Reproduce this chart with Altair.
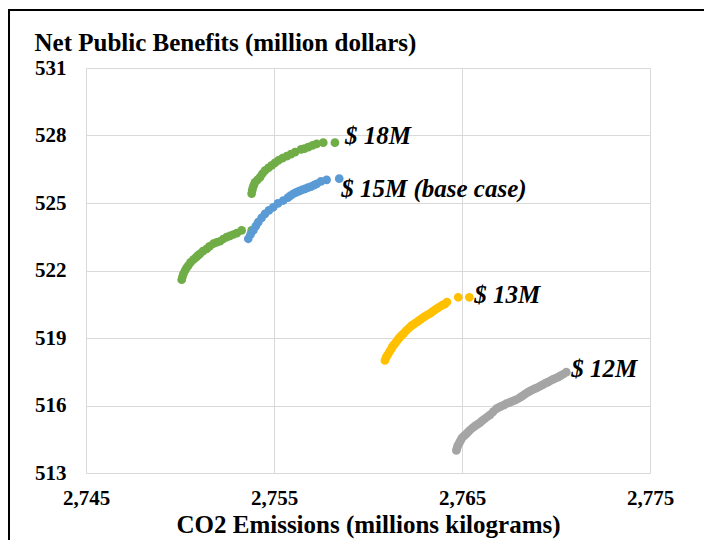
import altair as alt
import pandas as pd

# ---- data ----
green_x = [2750.09, 2750.13, 2750.18, 2750.27, 2750.35, 2750.44, 2750.56, 2750.71, 2750.85,
           2750.96, 2751.06, 2751.22, 2751.42, 2751.57, 2751.77, 2751.95, 2752.13, 2752.30,
           2752.48, 2752.66, 2752.84, 2753.02, 2753.28, 2753.81,
           2753.81, 2753.84, 2753.88, 2753.93, 2753.99, 2754.12, 2754.26, 2754.38, 2754.52,
           2754.70, 2754.88, 2755.05, 2755.23, 2755.45, 2755.68, 2755.90, 2756.12, 2756.44,
           2756.62, 2756.82, 2757.05, 2757.27, 2757.62, 2758.24]
green_y = [521.59, 521.72, 521.85, 522.00, 522.12, 522.22, 522.36, 522.48, 522.58,
           522.67, 522.74, 522.86, 522.96, 523.07, 523.19, 523.25, 523.30, 523.40,
           523.48, 523.54, 523.60, 523.66, 523.78, 523.78,
           525.42, 525.56, 525.69, 525.80, 525.92, 526.03, 526.15, 526.30, 526.44,
           526.56, 526.67, 526.78, 526.89, 526.99, 527.08, 527.17, 527.26, 527.38,
           527.42, 527.48, 527.56, 527.63, 527.68, 527.68]

blue_x = [2753.63, 2753.75, 2753.90, 2754.03, 2754.16, 2754.34, 2754.52, 2754.73, 2754.96,
          2755.21, 2755.49, 2755.74, 2755.88, 2756.03, 2756.18, 2756.33, 2756.49, 2756.65,
          2756.81, 2756.97, 2757.12, 2757.27, 2757.50, 2757.80, 2758.47]
blue_y = [523.41, 523.60, 523.78, 523.97, 524.15, 524.34, 524.52, 524.67, 524.81,
          524.98, 525.11, 525.24, 525.33, 525.41, 525.47, 525.53, 525.58, 525.63,
          525.68, 525.73, 525.79, 525.85, 525.96, 526.03, 526.08]

orange_x = [2760.90, 2760.96, 2761.02, 2761.08, 2761.15, 2761.22, 2761.28, 2761.35, 2761.45,
            2761.54, 2761.62, 2761.70, 2761.80, 2761.91, 2762.02, 2762.14, 2762.24, 2762.34,
            2762.46, 2762.59, 2762.70, 2762.82, 2762.92, 2763.03, 2763.16, 2763.30, 2763.43,
            2763.56, 2763.70, 2763.83, 2763.96, 2764.10, 2764.20, 2764.80, 2765.39]
orange_y = [518.00, 518.13, 518.22, 518.30, 518.40, 518.49, 518.58, 518.67, 518.77,
            518.87, 518.96, 519.04, 519.13, 519.22, 519.32, 519.41, 519.49, 519.56,
            519.63, 519.70, 519.77, 519.84, 519.90, 519.96, 520.03, 520.09, 520.17,
            520.25, 520.33, 520.40, 520.46, 520.52, 520.60, 520.81, 520.81]

gray_x = [2764.70, 2764.73, 2764.76, 2764.82, 2764.88, 2764.94, 2765.00, 2765.11, 2765.23,
          2765.33, 2765.43, 2765.55, 2765.68, 2765.82, 2765.96, 2766.08, 2766.21, 2766.35,
          2766.49, 2766.65, 2766.82, 2766.95, 2767.07, 2767.22, 2767.36, 2767.51, 2767.66,
          2767.82, 2767.98, 2768.11, 2768.24, 2768.37, 2768.51, 2768.64, 2768.78, 2768.91,
          2769.04, 2769.18, 2769.31, 2769.44, 2769.57, 2769.70, 2769.84, 2769.97, 2770.11,
          2770.25, 2770.40, 2770.55]
gray_y = [514.00, 514.09, 514.18, 514.28, 514.37, 514.47, 514.56, 514.65, 514.74,
          514.83, 514.91, 515.00, 515.08, 515.16, 515.24, 515.33, 515.41, 515.50,
          515.58, 515.72, 515.85, 515.91, 515.96, 516.02, 516.08, 516.13, 516.18,
          516.24, 516.30, 516.37, 516.44, 516.52, 516.59, 516.65, 516.71, 516.76,
          516.81, 516.87, 516.93, 516.99, 517.04, 517.10, 517.16, 517.21, 517.26,
          517.33, 517.40, 517.48]

series_names = ["$ 18M", "$ 15M (base case)", "$ 13M", "$ 12M"]
series_colors = ["#70AD47", "#5B9BD5", "#FFC000", "#A5A5A5"]
x_ticks = [2745, 2755, 2765, 2775]
y_ticks = [513, 516, 519, 522, 525, 528, 531]

rows = []
for name, xs, ys in zip(series_names, [green_x, blue_x, orange_x, gray_x],
                        [green_y, blue_y, orange_y, gray_y]):
    for i, (a, b) in enumerate(zip(xs, ys)):
        rows.append({"series": name, "x": a, "y": b, "last": i == len(xs) - 1})
df = pd.DataFrame(rows)

FONT = "Liberation Serif"

xs = alt.X("x:Q", scale=alt.Scale(domain=[2745, 2775], nice=False, zero=False),
           axis=alt.Axis(values=x_ticks, format=",.0f", title="CO2 Emissions (millions kilograms)",
                         grid=True, gridColor="#D9D9D9", domain=False, ticks=False, labelFlush=False,
                         labelFont=FONT, labelFontSize=21, labelFontWeight="bold", labelColor="#000",
                         labelPadding=14, titleFont=FONT, titleFontSize=25, titleFontWeight="bold",
                         titleColor="#000", titleY=51, titleBaseline="middle"))
ys = alt.Y("y:Q", scale=alt.Scale(domain=[513, 531], nice=False, zero=False),
           axis=alt.Axis(values=y_ticks, title="Net Public Benefits (million dollars)",
                         grid=True, gridColor="#D9D9D9", domain=False, ticks=False, labelFlush=False,
                         labelFont=FONT, labelFontSize=21, labelFontWeight="bold", labelColor="#000",
                         labelPadding=20, labelBaseline="middle",
                         titleFont=FONT, titleFontSize=25, titleFontWeight="bold", titleColor="#000",
                         titleAngle=0, titleAlign="left", titleBaseline="middle",
                         titleX=-52, titleY=-26))

color = alt.Color("series:N", scale=alt.Scale(domain=series_names, range=series_colors), legend=None)

base = alt.Chart(df)
points = base.mark_circle(size=76, opacity=1).encode(x=xs, y=ys, color=color)

label_offsets = {"$ 18M": (10, -7), "$ 15M (base case)": (2, 10), "$ 13M": (5, -2), "$ 12M": (5, -3)}
labels = []
for name in series_names:
    dx, dy = label_offsets[name]
    labels.append(
        base.transform_filter((alt.datum.series == name) & (alt.datum.last == True))
        .mark_text(align="left", baseline="middle", dx=dx, dy=dy, font=FONT, fontSize=25,
                   fontWeight="bold", fontStyle="italic", color="#000")
        .encode(x="x:Q", y="y:Q", text="series:N")
    )

frame_df = pd.DataFrame({"k": [0]})
left_border = alt.Chart(frame_df).mark_rule(color="#000", strokeWidth=2).encode(
    x=alt.value(-77), y=alt.value(-58), y2=alt.value(600))
top_border = alt.Chart(frame_df).mark_rule(color="#000", strokeWidth=2).encode(
    x=alt.value(-78), x2=alt.value(700), y=alt.value(-58))

chart = alt.layer(points, *labels, left_border, top_border).properties(
    width=564, height=405,
    autosize=alt.AutoSizeParams(type="none"),
    padding={"left": 78, "top": 60, "right": 54, "bottom": 67},
    background="white",
).configure_view(stroke=None)

chart.save("out.html", embed_options={"renderer": "svg", "actions": False})
